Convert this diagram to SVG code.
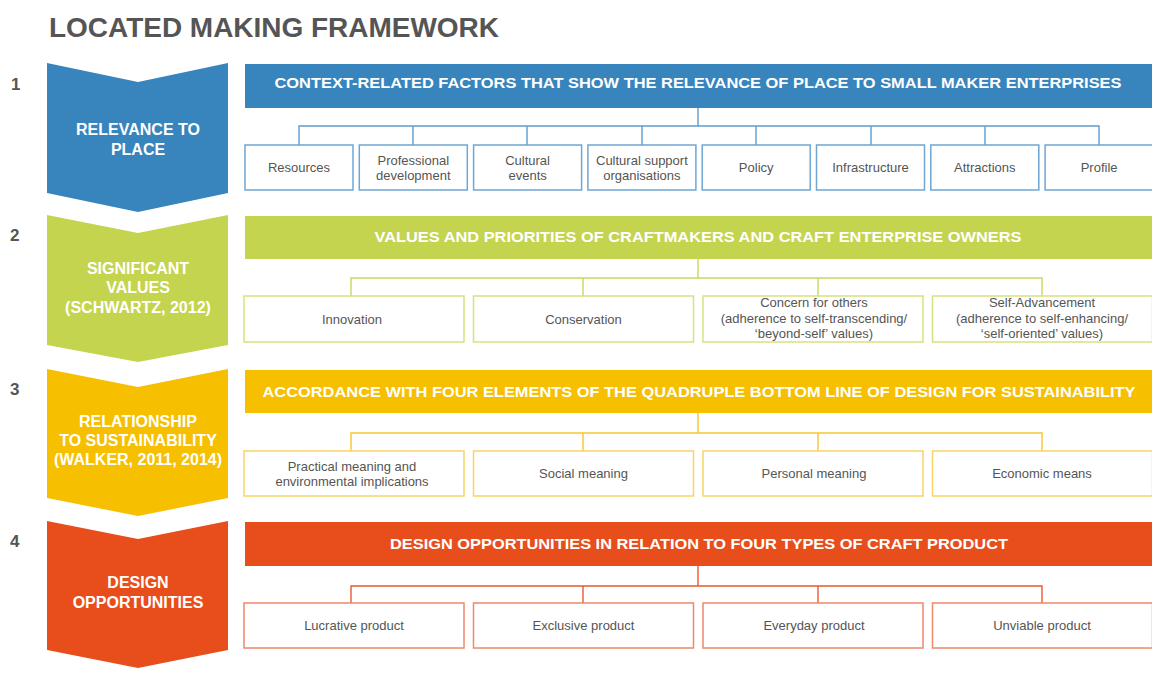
<svg xmlns="http://www.w3.org/2000/svg" width="1152" height="675" viewBox="0 0 1152 675">
<style>
text{font-family:"Liberation Sans",Arial,Helvetica,sans-serif}
.title{font-size:27px;font-weight:bold;fill:#555555}
.num{font-size:17px;font-weight:bold;fill:#555555}
.chev{font-size:16px;font-weight:bold;fill:#ffffff;text-anchor:middle}
.bar{font-size:15.5px;font-weight:bold;fill:#ffffff;text-anchor:middle}
.lbl{font-size:13px;fill:#555555;text-anchor:middle}
.box{fill:#ffffff;stroke-width:1.5}
.b1{stroke:#6fa6d4}.b2{stroke:#d6e27e}.b3{stroke:#f9d364}.b4{stroke:#f0876a}
.c{fill:none;stroke-width:1.4}
.c1{stroke:#5d9ccf}.c2{stroke:#c8d75a}.c3{stroke:#f7c62a}.c4{stroke:#e85a2e}
</style>
<rect width="1152" height="675" fill="#ffffff"/>
<text class="title" x="49" y="37" textLength="450" lengthAdjust="spacingAndGlyphs">LOCATED MAKING FRAMEWORK</text>

<g id="connectors">
<path class="c c1" d="M698,108 V126 M299,145 V126 H1099 V145 M413,126 V145 M527,126 V145 M642,126 V145 M756,126 V145 M871,126 V145 M985,126 V145"/>
<path class="c c2" d="M698,259 V278 M351,296 V278 H1042 V296 M583,278 V296 M818,278 V296"/>
<path class="c c3" d="M698,413 V433 M351,451 V433 H1042 V451 M583,433 V451 M818,433 V451"/>
<path class="c c4" d="M698,566 V586 M351,603 V586 H1042 V603 M583,586 V603 M818,586 V603"/>
</g>

<g id="stage1">
<text class="num" x="11" y="90">1</text>
<path d="M47,63 L138,82 L228,63 L228,193 L138,212 L47,193 Z" fill="#3884bd"/>
<text class="chev" x="138" y="135">RELEVANCE TO</text>
<text class="chev" x="138" y="155">PLACE</text>
</g>
<g id="header1">
<rect x="245" y="64" width="907" height="44" fill="#3884bd"/>
<text class="bar" x="698" y="88" textLength="847" lengthAdjust="spacingAndGlyphs">CONTEXT-RELATED FACTORS THAT SHOW THE RELEVANCE OF PLACE TO SMALL MAKER ENTERPRISES</text>
</g>
<g id="resources"><rect class="box b1" x="245" y="145" width="108" height="45"/><text class="lbl" x="299" y="172">Resources</text></g>
<g id="professional"><rect class="box b1" x="359.3" y="145" width="108" height="45"/><text class="lbl" x="413.3" y="165">Professional</text><text class="lbl" x="413.3" y="180">development</text></g>
<g id="cultural-events"><rect class="box b1" x="473.6" y="145" width="108" height="45"/><text class="lbl" x="527.6" y="165">Cultural</text><text class="lbl" x="527.6" y="180">events</text></g>
<g id="cultural-support"><rect class="box b1" x="587.9" y="145" width="108" height="45"/><text class="lbl" x="641.9" y="165">Cultural support</text><text class="lbl" x="641.9" y="180">organisations</text></g>
<g id="policy"><rect class="box b1" x="702.2" y="145" width="108" height="45"/><text class="lbl" x="756.2" y="172">Policy</text></g>
<g id="infrastructure"><rect class="box b1" x="816.5" y="145" width="108" height="45"/><text class="lbl" x="870.5" y="172">Infrastructure</text></g>
<g id="attractions"><rect class="box b1" x="930.8" y="145" width="108" height="45"/><text class="lbl" x="984.8" y="172">Attractions</text></g>
<g id="profile"><rect class="box b1" x="1045.1" y="145" width="108" height="45"/><text class="lbl" x="1099.1" y="172">Profile</text></g>

<g id="stage2">
<text class="num" x="10" y="241">2</text>
<path d="M47,215 L138,233 L228,215 L228,345 L138,362 L47,345 Z" fill="#c5d44e"/>
<text class="chev" x="138" y="274">SIGNIFICANT</text>
<text class="chev" x="138" y="293">VALUES</text>
<text class="chev" x="138" y="313">(SCHWARTZ, 2012)</text>
</g>
<g id="header2">
<rect x="245" y="216" width="907" height="43" fill="#c5d44e"/>
<text class="bar" x="698" y="242" textLength="647" lengthAdjust="spacingAndGlyphs">VALUES AND PRIORITIES OF CRAFTMAKERS AND CRAFT ENTERPRISE OWNERS</text>
</g>
<g id="innovation"><rect class="box b2" x="244" y="296" width="220" height="46"/><text class="lbl" x="352" y="324">Innovation</text></g>
<g id="conservation"><rect class="box b2" x="473.5" y="296" width="220" height="46"/><text class="lbl" x="583.5" y="324">Conservation</text></g>
<g id="concern"><rect class="box b2" x="703" y="296" width="220" height="46"/><text class="lbl" x="814" y="307">Concern for others</text><text class="lbl" x="814" y="323">(adherence to self-transcending/</text><text class="lbl" x="814" y="338">‘beyond-self’ values)</text></g>
<g id="self-advancement"><rect class="box b2" x="932.5" y="296" width="220" height="46"/><text class="lbl" x="1042" y="307">Self-Advancement</text><text class="lbl" x="1042" y="323">(adherence to self-enhancing/</text><text class="lbl" x="1042" y="338">‘self-oriented’ values)</text></g>

<g id="stage3">
<text class="num" x="10" y="395">3</text>
<path d="M47,369 L138,387 L228,369 L228,498 L138,516 L47,498 Z" fill="#f6bf00"/>
<text class="chev" x="138" y="427">RELATIONSHIP</text>
<text class="chev" x="138" y="446">TO SUSTAINABILITY</text>
<text class="chev" x="138" y="465">(WALKER, 2011, 2014)</text>
</g>
<g id="header3">
<rect x="245" y="370" width="907" height="43" fill="#f6bf00"/>
<text class="bar" x="699" y="397" textLength="873" lengthAdjust="spacingAndGlyphs">ACCORDANCE WITH FOUR ELEMENTS OF THE QUADRUPLE BOTTOM LINE OF DESIGN FOR SUSTAINABILITY</text>
</g>
<g id="practical"><rect class="box b3" x="244" y="451" width="220" height="45"/><text class="lbl" x="352" y="471">Practical meaning and</text><text class="lbl" x="352" y="486">environmental implications</text></g>
<g id="social"><rect class="box b3" x="473.5" y="451" width="220" height="45"/><text class="lbl" x="583.5" y="478">Social meaning</text></g>
<g id="personal"><rect class="box b3" x="703" y="451" width="220" height="45"/><text class="lbl" x="814" y="478">Personal meaning</text></g>
<g id="economic"><rect class="box b3" x="932.5" y="451" width="220" height="45"/><text class="lbl" x="1042" y="478">Economic means</text></g>

<g id="stage4">
<text class="num" x="10" y="547">4</text>
<path d="M47,521 L138,539 L228,521 L228,650 L138,668 L47,650 Z" fill="#e84e1c"/>
<text class="chev" x="138" y="588">DESIGN</text>
<text class="chev" x="138" y="608">OPPORTUNITIES</text>
</g>
<g id="header4">
<rect x="245" y="522" width="907" height="44" fill="#e84e1c"/>
<text class="bar" x="699" y="549" textLength="618" lengthAdjust="spacingAndGlyphs">DESIGN OPPORTUNITIES IN RELATION TO FOUR TYPES OF CRAFT PRODUCT</text>
</g>
<g id="lucrative"><rect class="box b4" x="244" y="603" width="220" height="45"/><text class="lbl" x="354" y="630">Lucrative product</text></g>
<g id="exclusive"><rect class="box b4" x="473.5" y="603" width="220" height="45"/><text class="lbl" x="583.5" y="630">Exclusive product</text></g>
<g id="everyday"><rect class="box b4" x="703" y="603" width="220" height="45"/><text class="lbl" x="814" y="630">Everyday product</text></g>
<g id="unviable"><rect class="box b4" x="932.5" y="603" width="220" height="45"/><text class="lbl" x="1042" y="630">Unviable product</text></g>
</svg>
